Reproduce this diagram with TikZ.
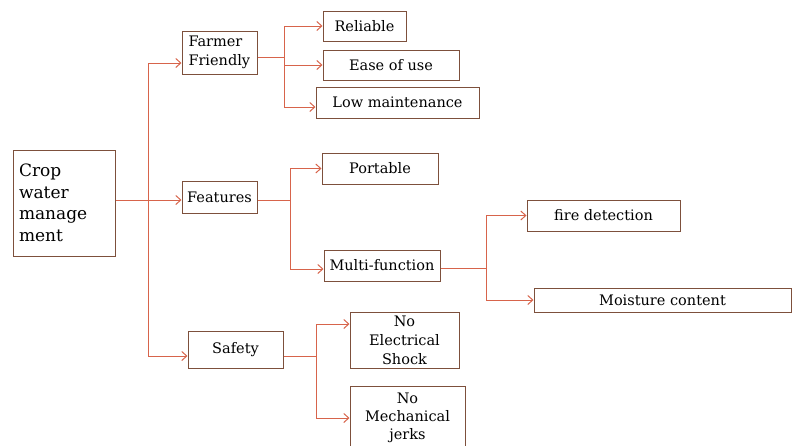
\documentclass[tikz,border=0pt]{standalone}
\usepackage{fontspec}
\setmainfont{DejaVu Serif}
\usetikzlibrary{shapes, arrows, arrows.meta}
\definecolor{boxline}{RGB}{125,80,60}
\definecolor{edgeline}{RGB}{215,100,75}
\tikzstyle{block} = [rectangle, draw=boxline, line width=1pt, fill=white,
    align=center, inner sep=2pt, font=\fontsize{14.5}{19}\selectfont]
\tikzstyle{lblock} = [block, align=left]
\tikzstyle{branch} = [draw=edgeline, line width=1pt]
\tikzstyle{line} = [branch, -{Straight Barb[length=5pt, width=9pt]}]

\begin{document}
\begin{tikzpicture}[x=1pt, y=-1pt]
        \useasboundingbox (0,0) rectangle (792,445);
        % Place nodes
        \node [lblock, text width=90pt, inner xsep=6pt, minimum height=106pt,
            font=\fontsize{17}{21.5}\selectfont] (root) at (64,203) {Crop\\water\\manage\\ment};
        \node [lblock, text width=62pt, inner xsep=6.5pt, minimum height=43pt] (farmer) at (219.5,52.5) {Farmer\\Friendly};
        \node [block, minimum width=75pt, minimum height=32pt] (features) at (219.5,197) {Features};
        \node [block, minimum width=95pt, minimum height=37pt] (safety) at (235.5,349.5) {Safety};
        \node [block, minimum width=83pt, minimum height=30pt] (reliable) at (364.5,26) {Reliable};
        \node [block, minimum width=136pt, minimum height=30pt] (ease) at (391,65) {Ease of use};
        \node [block, minimum width=163pt, minimum height=31pt] (lowm) at (397.5,102.5) {Low maintenance};
        \node [block, minimum width=116pt, minimum height=31pt] (portable) at (380,168.5) {Portable};
        \node [block, minimum width=116pt, minimum height=31pt] (multi) at (382,265.5) {Multi-function};
        \node [block, minimum width=153pt, minimum height=31pt] (fire) at (603.5,215.5) {fire detection};
        \node [block, minimum width=257pt, minimum height=24pt] (moist) at (662.5,300) {Moisture content};
        \node [block, minimum width=109pt, minimum height=56pt] (noelec) at (404.5,340) {No\\Electrical\\Shock};
        \node [block, minimum width=115pt, minimum height=64pt,
            font=\fontsize{14.5}{18}\selectfont] (nomech) at (407.5,418) {No\\Mechanical\\jerks};
        % Branch points
        \coordinate (trunk) at (148,200);
        \coordinate (fj) at (284,57);
        \coordinate (fb) at (290,200);
        \coordinate (mb) at (486,268);
        \coordinate (sb) at (316,356);
        % Draw edges
        \path [line] (root.east |- trunk) -- (features.west |- trunk);
        \path [line] (trunk) |- ([yshift=-10.5pt]farmer.west);
        \path [line] (trunk) |- ([yshift=-6.5pt]safety.west);
        \path [branch] (farmer.east |- fj) -- (fj);
        \path [line] (fj) |- (reliable);
        \path [line] (fj) |- (ease);
        \path [line] (fj) |- ([yshift=-4.5pt]lowm.west);
        \path [branch] (features.east |- fb) -- (fb);
        \path [line] (fb) |- (portable);
        \path [line] (fb) |- ([yshift=-3.5pt]multi.west);
        \path [branch] (multi.east |- mb) -- (mb);
        \path [line] (mb) |- (fire);
        \path [line] (mb) |- (moist);
        \path [branch] (safety.east |- sb) -- (sb);
        \path [line] (sb) |- ([yshift=16pt]noelec.west);
        \path [line] (sb) |- (nomech);
    \end{tikzpicture}
\end{document}
